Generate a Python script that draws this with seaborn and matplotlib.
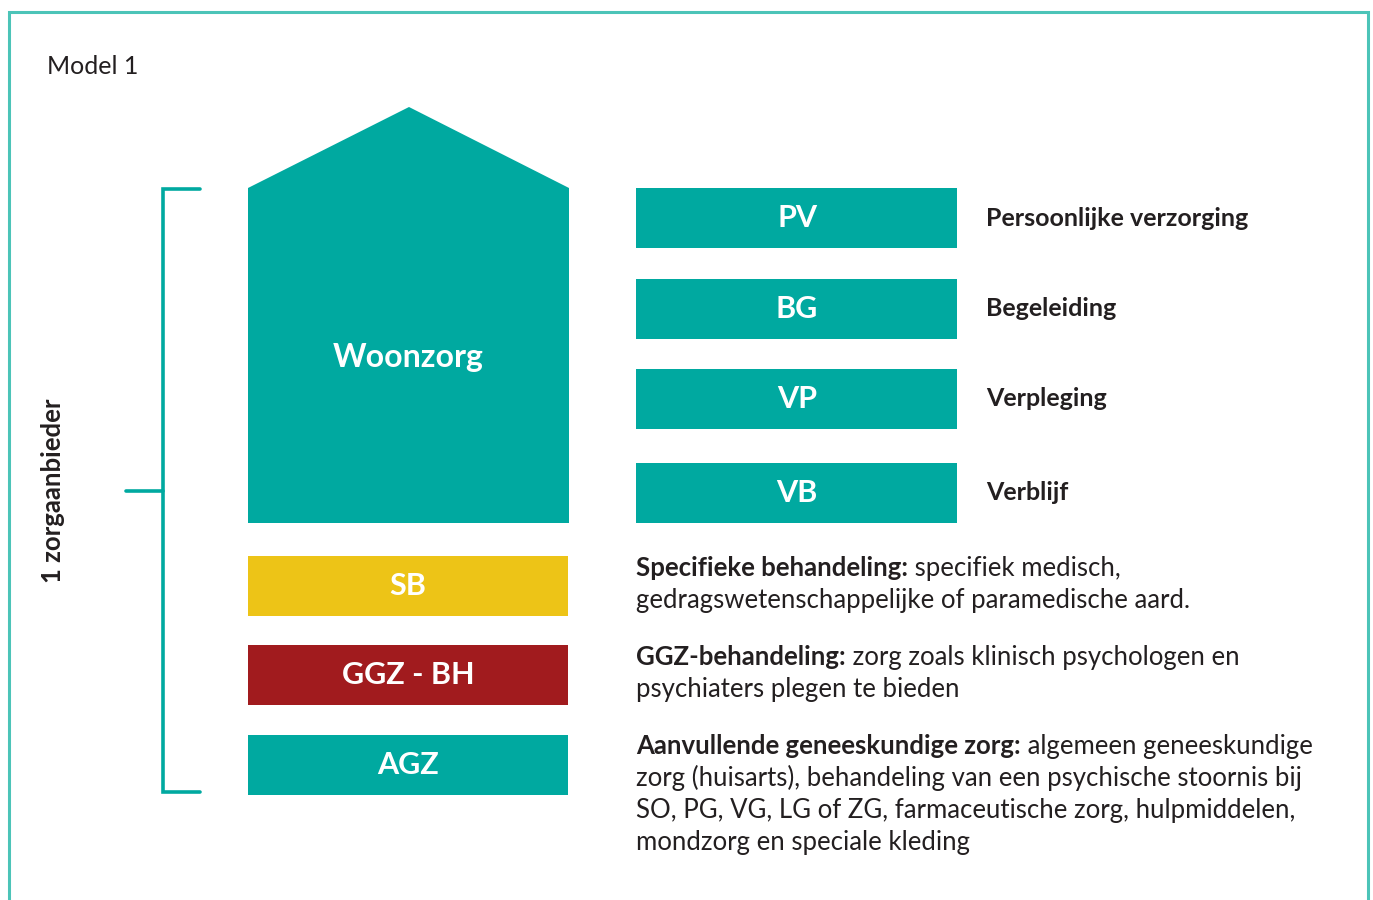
import matplotlib
matplotlib.use("Agg")
import matplotlib.pyplot as plt
import seaborn as sns
from matplotlib.patches import Polygon

sns.set_style("white")
plt.rcParams['font.family'] = ['Lato', 'DejaVu Sans']

# --- content ---
title = "Model 1"
house_label = "Woonzorg"
bracket_label = "1 zorgaanbieder"

right_codes = ["PV", "BG", "VP", "VB"]
right_names = ["Persoonlijke verzorging", "Begeleiding", "Verpleging", "Verblijf"]

left_codes = ["SB", "GGZ - BH", "AGZ"]
left_colors = ["#EDC417", "#A11B1E", "#00A9A0"]

desc_heads = ["Specifieke behandeling:", "GGZ-behandeling:", "Aanvullende geneeskundige zorg:"]
desc_lines = [
    [" specifiek medisch,", "gedragswetenschappelijke of paramedische aard."],
    [" zorg zoals klinisch psychologen en", "psychiaters plegen te bieden"],
    [" algemeen geneeskundige", "zorg (huisarts), behandeling van een psychische stoornis bij",
     "SO, PG, VG, LG of ZG, farmaceutische zorg, hulpmiddelen,",
     "mondzorg en speciale kleding"],
]

# --- layout (pixel space) ---
teal = "#00A9A0"
border = "#4CC4B8"
dark = "#231F20"
right_y = [218, 309, 399, 493]
left_y = [586, 675, 765]
desc_y = [568, 657, 746]
line_gap = 32

fig = plt.figure(figsize=(13.73, 9), dpi=100)
ax = fig.add_axes([0, 0, 1, 1])
ax.set_xlim(0, 1373)
ax.set_ylim(900, 0)
ax.axis("off")

# outer frame (open at the bottom)
ax.plot([9, 9, 1368, 1368], [905, 12, 12, 905], color=border, lw=2.2, solid_joinstyle="miter")

ax.text(47, 66, title, fontsize=18, color=dark, va="center", ha="left")

# bracket
ax.plot([200, 163, 163, 200], [189, 189, 792, 792], color=teal, lw=2.6, solid_joinstyle="miter")
ax.plot([126, 163], [491, 491], color=teal, lw=2.6)
ax.text(53, 491, bracket_label, rotation=90, fontsize=18.5, fontweight="bold",
        color=dark, ha="center", va="center")

# house
ax.add_patch(Polygon([(248, 523), (248, 188), (409, 107), (569, 188), (569, 523)],
                     closed=True, color=teal, lw=0))
ax.text(408, 357, house_label, fontsize=23, fontweight="bold", color="white",
        ha="center", va="center")

# right boxes
ax.barh(right_y, 321, height=60, left=636, color=teal, linewidth=0)
for y, code, name in zip(right_y, right_codes, right_names):
    ax.text(797, y, code, fontsize=22, fontweight="bold", color="white", ha="center", va="center")
    ax.text(986, y, name, fontsize=18, fontweight="bold", color=dark, ha="left", va="center")

# left boxes
ax.barh(left_y, 320, height=60, left=248, color=left_colors, linewidth=0)
for y, code in zip(left_y, left_codes):
    ax.text(408, y, code, fontsize=22, fontweight="bold", color="white", ha="center", va="center")

# descriptions: bold head followed by regular text
fig.canvas.draw()
renderer = fig.canvas.get_renderer()
inv = ax.transData.inverted()
for y0, head, lines in zip(desc_y, desc_heads, desc_lines):
    base = y0 + 8
    h = ax.text(636, base, head, fontsize=18.5, fontweight="bold", color=dark,
                ha="left", va="baseline")
    bb = h.get_window_extent(renderer)
    x_end = inv.transform((bb.x1, bb.y0))[0]
    ax.text(x_end, base, lines[0], fontsize=18.5, color=dark, ha="left", va="baseline")
    for i, line in enumerate(lines[1:], start=1):
        ax.text(636, base + i * line_gap, line, fontsize=18.5, color=dark,
                ha="left", va="baseline")

fig.savefig("out.png", dpi=100, facecolor="white")
